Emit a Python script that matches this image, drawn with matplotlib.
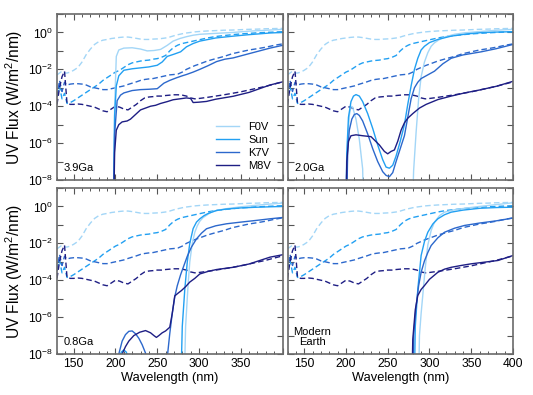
import numpy as np
import matplotlib
matplotlib.use("Agg")
import matplotlib.pyplot as plt
from matplotlib.lines import Line2D

plt.rcParams['font.family'] = ['Liberation Sans', 'DejaVu Sans']
plt.rcParams['mathtext.default'] = 'regular'

# colours for the four stars
star_names = ['F0V', 'Sun', 'K7V', 'M8V']
star_colors = ['#a3d6f7', '#22a0f2', '#2c68cc', '#1e1e84']

# top-of-atmosphere spectra (dashed), log10 flux
wl_toa = [130, 133, 136, 139, 142, 146, 150, 155, 160, 165, 170, 175, 180, 185, 190,
          195, 200, 205, 210, 215, 220, 225, 230, 235, 240, 245, 250, 255, 260, 265,
          270, 275, 280, 285, 290, 295, 300, 310, 320, 330, 340, 350, 360, 370, 380,
          390, 400]
toa_f0v = [-2.3, -2.2, -2.1, -2.2, -2.2, -2.15, -2.05, -1.9, -1.6, -1.2, -0.9, -0.65,
           -0.5, -0.42, -0.38, -0.33, -0.3, -0.27, -0.25, -0.25, -0.28, -0.32, -0.36,
           -0.38, -0.38, -0.36, -0.35, -0.33, -0.3, -0.25, -0.18, -0.12, -0.07, -0.03,
           0.0, 0.03, 0.05, 0.08, 0.1, 0.12, 0.13, 0.15, 0.17, 0.18, 0.2, 0.21, 0.22]
toa_sun = [-3.4, -2.9, -3.6, -3.3, -3.85, -3.8, -3.7, -3.55, -3.4, -3.25, -3.1, -2.95,
           -2.8, -2.6, -2.45, -2.3, -2.15, -2.05, -1.9, -1.75, -1.65, -1.6, -1.55,
           -1.52, -1.5, -1.45, -1.42, -1.35, -1.25, -1.0, -0.8, -0.68, -0.6, -0.55,
           -0.5, -0.45, -0.4, -0.3, -0.22, -0.17, -0.12, -0.08, -0.05, -0.02, 0.0,
           0.02, 0.04]
toa_k7v = [-3.5, -2.6, -3.2, -2.7, -2.85, -2.8, -2.78, -2.78, -2.8, -2.85, -2.95, -3.0,
           -3.05, -3.1, -3.1, -3.05, -3.0, -2.95, -2.9, -2.82, -2.75, -2.68, -2.6,
           -2.55, -2.52, -2.5, -2.45, -2.4, -2.35, -2.3, -2.28, -2.25, -2.15, -2.0,
           -1.9, -1.8, -1.72, -1.55, -1.42, -1.3, -1.15, -1.05, -0.95, -0.88, -0.8,
           -0.7, -0.62]
toa_m8v = [-3.9, -3.0, -2.4, -2.1, -3.85, -3.9, -3.9, -3.88, -3.9, -3.95, -4.0, -4.05,
           -4.15, -4.25, -4.3, -4.15, -4.0, -4.05, -4.15, -4.2, -4.05, -3.9, -3.7,
           -3.55, -3.5, -3.48, -3.45, -3.45, -3.42, -3.4, -3.38, -3.38, -3.4, -3.45,
           -3.55, -3.6, -3.58, -3.52, -3.45, -3.38, -3.3, -3.22, -3.12, -3.02, -2.92,
           -2.8, -2.68]

# surface spectra (solid), log10 flux, one set per epoch
# 3.9 Ga
p1_f0v_wl = [197, 199, 201, 204, 210, 220, 230, 238, 246, 254, 262, 269, 277, 285, 293,
             301, 320, 341, 360, 385, 400]
p1_f0v = [-12, -4, -1.3, -0.95, -0.85, -0.83, -0.9, -1.0, -0.98, -0.92, -0.7, -0.47,
          -0.33, -0.23, -0.15, -0.1, -0.05, 0.0, 0.07, 0.13, 0.17]
p1_sun_wl = [197, 199, 201, 204, 210, 220, 230, 240, 250, 256, 262, 270, 278, 285, 293,
             301, 320, 341, 360, 385, 400]
p1_sun = [-12, -4.5, -2.9, -2.35, -2.05, -1.97, -1.92, -1.87, -1.78, -1.6, -1.3, -1.18,
          -1.05, -0.78, -0.6, -0.47, -0.3, -0.2, -0.12, -0.03, 0.0]
p1_k7v_wl = [197, 199, 202, 206, 210, 220, 230, 240, 250, 258, 265, 273, 280, 285, 293,
             301, 311, 321, 331, 341, 360, 385, 400]
p1_k7v = [-12, -5.5, -3.7, -3.4, -3.28, -3.15, -3.1, -3.08, -3.05, -2.75, -2.6, -2.46,
          -2.35, -2.28, -2.15, -2.0, -1.8, -1.58, -1.45, -1.38, -1.15, -0.85, -0.7]
p1_m8v_wl = [197, 199, 201, 204, 208, 214, 218, 224, 230, 236, 242, 248, 254, 262, 269,
             277, 285, 290, 293, 300, 309, 320, 341, 360, 385, 400]
p1_m8v = [-12, -6.5, -5.3, -5.0, -4.85, -4.8, -4.7, -4.45, -4.2, -4.1, -4.0, -3.95,
          -3.85, -3.75, -3.65, -3.6, -3.55, -3.58, -3.8, -3.78, -3.74, -3.62, -3.46,
          -3.25, -2.85, -2.68]

# 2.0 Ga
p2_f0v_wl = [200, 202, 204, 206, 208, 212, 216, 220, 222, 278, 281, 284, 287, 290, 294,
             298, 302, 306, 312, 318, 330, 342, 360, 380, 400]
p2_f0v = [-12, -6, -4.5, -4.0, -4.05, -4.7, -5.8, -7.4, -12, -12, -7.5, -5.4, -3.6,
          -2.4, -1.6, -1.1, -0.75, -0.56, -0.38, -0.25, -0.1, -0.02, 0.05, 0.12, 0.17]
p2_sun_wl = [199, 201, 203, 206, 209, 212, 216, 220, 226, 232, 238, 244, 248, 252, 256,
             260, 265, 270, 274, 278, 282, 286, 290, 294, 300, 310, 326, 345, 362, 380,
             400]
p2_sun = [-12, -6.5, -4.6, -3.75, -3.45, -3.37, -3.45, -3.75, -4.4, -5.2, -6.1, -6.9,
          -7.3, -7.36, -7.2, -6.7, -5.9, -5.0, -3.9, -2.9, -2.0, -1.4, -0.95, -0.75,
          -0.55, -0.38, -0.2, -0.08, -0.01, 0.02, 0.04]
p2_k7v_wl = [200, 202, 204, 207, 210, 213, 216, 220, 226, 232, 238, 244, 248, 252, 256,
             260, 265, 270, 274, 278, 282, 286, 290, 296, 306, 316, 326, 340, 362, 380,
             400]
p2_k7v = [-12, -6.5, -5.3, -4.7, -4.45, -4.4, -4.5, -4.8, -5.5, -6.3, -7.0, -7.55,
          -7.75, -7.82, -7.6, -7.0, -6.3, -5.6, -4.6, -3.6, -3.0, -2.7, -2.5, -2.35,
          -2.1, -1.7, -1.4, -1.22, -1.05, -0.88, -0.65]
p2_m8v_wl = [199, 201, 203, 206, 212, 220, 230, 240, 246, 250, 254, 258, 262, 266, 270,
             274, 280, 288, 296, 310, 326, 342, 360, 380, 400]
p2_m8v = [-12, -7, -5.9, -5.6, -5.55, -5.6, -5.65, -6.1, -6.45, -6.58, -6.45, -6.37,
          -5.9, -5.3, -4.9, -4.65, -4.4, -4.1, -3.9, -3.64, -3.45, -3.28, -3.12, -2.92,
          -2.65]

# 0.8 Ga
p3_f0v_wl = [281, 284, 287, 289, 292, 295, 298, 301, 305, 309, 315, 321, 333, 350, 370,
             385, 400]
p3_f0v = [-12, -6.5, -4.2, -3.0, -2.0, -1.4, -1.05, -0.8, -0.6, -0.48, -0.3, -0.22,
          -0.12, -0.02, 0.07, 0.13, 0.18]
p3_sun_wl = [201, 204, 207, 210, 213, 216, 219, 277, 280, 283, 286, 289, 293, 297, 301,
             306, 311, 321, 333, 350, 370, 385, 400]
p3_sun = [-9, -8.3, -7.9, -7.78, -7.9, -8.3, -9, -12, -6.5, -4.5, -3.0, -2.0, -1.2,
          -0.85, -0.67, -0.5, -0.38, -0.22, -0.14, -0.08, -0.04, -0.02, 0.0]
p3_k7v_wl = [200, 204, 208, 212, 216, 220, 224, 228, 232, 236, 240, 258, 262, 265, 268,
             271, 274, 278, 282, 286, 291, 297, 303, 309, 320, 333, 350, 370, 385, 400]
p3_k7v = [-12, -8.0, -7.3, -6.95, -6.77, -6.75, -6.9, -7.15, -7.5, -7.95, -12, -12,
          -8.2, -6.9, -5.8, -4.9, -4.3, -3.7, -3.2, -2.7, -2.2, -1.76, -1.45, -1.21,
          -1.05, -0.94, -0.85, -0.75, -0.67, -0.6]
p3_m8v_wl = [205, 208, 212, 216, 222, 229, 236, 242, 246, 249, 252, 256, 260, 265, 268,
             271, 275, 279, 284, 289, 295, 301, 311, 321, 341, 360, 385, 400]
p3_m8v = [-12, -8.0, -7.6, -7.3, -7.0, -6.82, -6.73, -6.85, -7.0, -7.1, -7.0, -6.85,
          -6.75, -6.55, -5.8, -4.85, -4.7, -4.56, -4.35, -4.1, -3.9, -3.66, -3.52, -3.42,
          -3.3, -3.12, -2.75, -2.62]

# Modern Earth
p4_f0v_wl = [286, 288, 290, 292, 295, 298, 302, 306, 312, 318, 330, 342, 360, 380, 400]
p4_f0v = [-12, -7.0, -5.8, -4.8, -3.3, -2.1, -1.3, -0.85, -0.5, -0.31, -0.18, -0.1, 0.0,
          0.1, 0.2]
p4_sun_wl = [281, 283, 286, 290, 294, 298, 304, 310, 318, 326, 340, 360, 380, 400]
p4_sun = [-12, -6.5, -4.5, -2.66, -1.9, -1.4, -0.95, -0.67, -0.45, -0.31, -0.2, -0.1,
          -0.06, -0.04]
p4_k7v_wl = [279, 281, 284, 287, 290, 294, 298, 302, 310, 318, 330, 342, 360, 380, 400]
p4_k7v = [-12, -7.0, -5.4, -4.3, -3.57, -2.95, -2.5, -2.12, -1.7, -1.4, -1.18, -1.03,
          -0.9, -0.78, -0.63]
p4_m8v_wl = [278, 280, 283, 286, 290, 294, 300, 310, 318, 326, 338, 350, 366, 382, 400]
p4_m8v = [-12, -7.2, -5.6, -4.83, -4.5, -4.29, -3.95, -3.57, -3.4, -3.3, -3.2, -3.11,
          -3.02, -2.93, -2.66]

epoch_labels = ['3.9Ga', '2.0Ga', '0.8Ga', 'Modern\nEarth']
toa_logs = [toa_f0v, toa_sun, toa_k7v, toa_m8v]
surf = [
    [(p1_f0v_wl, p1_f0v), (p1_sun_wl, p1_sun), (p1_k7v_wl, p1_k7v), (p1_m8v_wl, p1_m8v)],
    [(p2_f0v_wl, p2_f0v), (p2_sun_wl, p2_sun), (p2_k7v_wl, p2_k7v), (p2_m8v_wl, p2_m8v)],
    [(p3_f0v_wl, p3_f0v), (p3_sun_wl, p3_sun), (p3_k7v_wl, p3_k7v), (p3_m8v_wl, p3_m8v)],
    [(p4_f0v_wl, p4_f0v), (p4_sun_wl, p4_sun), (p4_k7v_wl, p4_k7v), (p4_m8v_wl, p4_m8v)],
]

fig = plt.figure(figsize=(5.33, 3.95), dpi=100)
W, H = 533.0, 395.0
boxes = [(57, 14), (287.5, 14), (57, 188), (287.5, 188)]
aw, ah = 225.5, 166

ylab_ticks = 10.0 ** np.arange(-8, 2)
ylab_text = ['$10^{%d}$' % e if e % 2 == 0 else '' for e in range(-8, 2)]

for i in range(4):
    x0, y0 = boxes[i]
    ax = fig.add_axes([x0 / W, 1 - (y0 + ah) / H, aw / W, ah / H])
    for j in range(4):
        ax.plot(wl_toa, 10.0 ** np.array(toa_logs[j]), color=star_colors[j], lw=1.0,
                dashes=(4, 2.2))
    for j in range(4):
        wl, lg = surf[i][j]
        ax.plot(wl, 10.0 ** np.array(lg), color=star_colors[j], lw=1.0)
    ax.set_yscale('log')
    ax.set_xlim(130, 400)
    ax.set_ylim(1e-8, 10)
    ax.set_yticks(ylab_ticks)
    ax.minorticks_off()
    ax.set_xticks(np.arange(150, 401, 50))
    ax.set_xticks(np.arange(130, 401, 10), minor=True)
    ax.tick_params(which='both', direction='in', top=True, right=True,
                   color='#555555', labelsize=8.7, pad=3)
    ax.tick_params(which='major', length=4, width=0.8)
    ax.tick_params(which='minor', length=2.2, width=0.7)
    for s in ax.spines.values():
        s.set_color('#6a6a6a')
        s.set_linewidth(1.2)
    if i % 2 == 0:
        ax.set_yticklabels(ylab_text)
        ax.set_ylabel('UV Flux (W/m$^2$/nm)', fontsize=11.2, labelpad=2)
    else:
        ax.set_yticklabels([])
    if i >= 2:
        if i == 2:
            ax.set_xticklabels(['150', '200', '250', '300', '350', ''])
        ax.set_xlabel('Wavelength (nm)', fontsize=9.3, labelpad=1)
    else:
        ax.set_xticklabels([])
    if i == 3:
        ax.text(0.11, 0.10, epoch_labels[i], transform=ax.transAxes, fontsize=8,
                ha='center', va='center', linespacing=1.0)
    else:
        ax.text(0.03, 0.075, epoch_labels[i], transform=ax.transAxes, fontsize=8,
                ha='left', va='center')
    if i == 0:
        handles = [Line2D([], [], color=c, lw=1.0) for c in star_colors]
        ax.legend(handles, star_names, loc='lower right', bbox_to_anchor=(0.97, 0.03),
                  frameon=False, fontsize=8, handlelength=2.0, handletextpad=0.9,
                  labelspacing=0.25, borderaxespad=0.0)

fig.savefig('out.png', dpi=100)
